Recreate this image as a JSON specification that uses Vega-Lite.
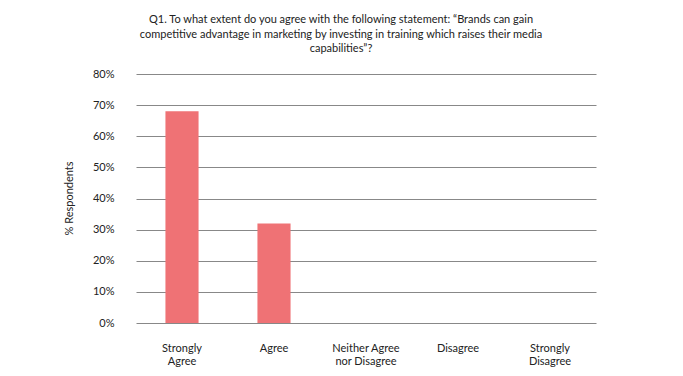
{
  "$schema": "https://vega.github.io/schema/vega-lite/v6.json",
  "width": 460,
  "height": 249,
  "autosize": {"type": "none"},
  "padding": {"left": 136, "top": 74, "right": 87, "bottom": 53},
  "background": "white",
  "title": {
    "text": ["Q1. To what extent do you agree with the following statement: “Brands can gain", "competitive advantage in marketing by investing in training which raises their media", "capabilities”?"],
    "anchor": "middle",
    "dx": -25,
    "offset": 14,
    "font": "Lato",
    "fontSize": 11,
    "fontWeight": "normal",
    "color": "#222222",
    "lineHeight": 14.5
  },
  "data": {
    "values": [
      {"response": "Strongly Agree", "pct": 68},
      {"response": "Agree", "pct": 32},
      {"response": "Neither Agree nor Disagree", "pct": 0},
      {"response": "Disagree", "pct": 0},
      {"response": "Strongly Disagree", "pct": 0}
    ]
  },
  "mark": {"type": "bar", "color": "#EF7275", "width": {"band": 0.36}},
  "encoding": {
    "x": {
      "field": "response",
      "type": "nominal",
      "sort": null,
      "scale": {"paddingInner": 0, "paddingOuter": 0},
      "axis": {
        "title": null,
        "labelAngle": 0,
        "domain": false,
        "ticks": false,
        "labelPadding": 19,
        "labelFont": "Lato",
        "labelFontSize": 11,
        "labelColor": "#222222",
        "labelLineHeight": 13,
        "labelExpr": "datum.value == 'Strongly Agree' ? ['Strongly','Agree'] : datum.value == 'Neither Agree nor Disagree' ? ['Neither Agree','nor Disagree'] : datum.value == 'Strongly Disagree' ? ['Strongly','Disagree'] : datum.value"
      }
    },
    "y": {
      "field": "pct",
      "type": "quantitative",
      "scale": {"domain": [0, 80]},
      "axis": {
        "title": "% Respondents",
        "titleFont": "Lato",
        "titleFontSize": 11,
        "titleFontWeight": "normal",
        "titleColor": "#222222",
        "titleX": -62,
        "titleY": 124,
        "values": [0, 10, 20, 30, 40, 50, 60, 70, 80],
        "labelExpr": "datum.value + '%'",
        "labelOverlap": false,
        "domain": false,
        "ticks": false,
        "labelPadding": 22,
        "labelFont": "Lato",
        "labelFontSize": 11,
        "labelColor": "#222222",
        "gridColor": "#888888",
        "gridWidth": 1
      }
    }
  },
  "config": {"view": {"stroke": null}}
}
